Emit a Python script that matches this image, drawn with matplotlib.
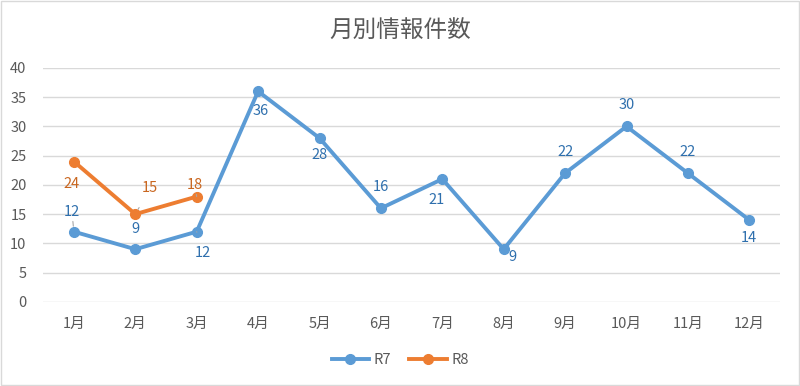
import matplotlib.pyplot as plt

plt.rcParams['font.family'] = ['Noto Sans CJK JP', 'DejaVu Sans']

months = ['1月', '2月', '3月', '4月', '5月', '6月', '7月', '8月', '9月', '10月', '11月', '12月']
r7 = [12, 9, 12, 36, 28, 16, 21, 9, 22, 30, 22, 14]
r8 = [24, 15, 18]

# label offsets in pixels (dx, dy) and whether a leader line is drawn
r7_offsets = [(-2, 20), (0, 20), (6, -21), (3, -20), (0, -17), (0, 21),
              (-6, -21), (9, -8), (0, 21), (0, 21), (0, 21), (0, -18)]
r7_leader = [True, False, True, False, False, False, False, False, False, False, False, False]
r8_offsets = [(-2, -22), (15, 26), (-2, 12)]
r8_leader = [False, True, True]

blue = '#5B9BD5'
orange = '#ED7D31'
gray = '#595959'

fig = plt.figure(figsize=(8, 3.86), dpi=100)
ax = fig.add_axes([0.054, 0.218, 0.921, 0.606])

x7 = list(range(len(r7)))
x8 = list(range(len(r8)))
ax.plot(x7, r7, color=blue, lw=2.8, marker='o', ms=7, label='R7', zorder=3)
ax.plot(x8, r8, color=orange, lw=2.8, marker='o', ms=7, label='R8', zorder=4)


def add_labels(xs, ys, offsets, leaders, color):
    for x, y, (dx, dy), lead in zip(xs, ys, offsets, leaders):
        arrow = dict(arrowstyle='-', color='#A6A6A6', lw=0.8, shrinkA=8, shrinkB=4) if lead else None
        ax.annotate(str(y), xy=(x, y), xytext=(dx, dy), textcoords='offset pixels',
                    ha='center', va='center', fontsize=10.5, color=color,
                    arrowprops=arrow, zorder=5)


add_labels(x7, r7, r7_offsets, r7_leader, '#2E6FAD')
add_labels(x8, r8, r8_offsets, r8_leader, '#C9661F')

ax.set_xlim(-0.5, len(months) - 0.5)
ax.set_ylim(0, 40)
ax.set_yticks(range(0, 41, 5))
ax.set_xticks(x7)
ax.set_xticklabels(months)
ax.grid(axis='y', color='#D9D9D9', lw=1)
ax.set_axisbelow(True)
for side in ['top', 'right', 'left', 'bottom']:
    ax.spines[side].set_visible(False)
ax.tick_params(length=0, colors=gray, labelsize=10.5)
ax.tick_params(axis='x', pad=11)
ax.tick_params(axis='y', pad=12)

fig.text(0.5, 0.92, '月別情報件数', ha='center', va='center', fontsize=17, color=gray)
fig.legend(loc='center', bbox_to_anchor=(0.5, 0.067), ncol=2, frameon=False,
           fontsize=10.5, labelcolor=gray, handlelength=2.6, columnspacing=1.2,
           handletextpad=0.3)

border = plt.Rectangle((0.001, 0.002), 0.998, 0.996, transform=fig.transFigure,
                       fill=False, edgecolor='#D9D9D9', lw=1)
fig.patches.append(border)

fig.savefig('out.png', dpi=100)
